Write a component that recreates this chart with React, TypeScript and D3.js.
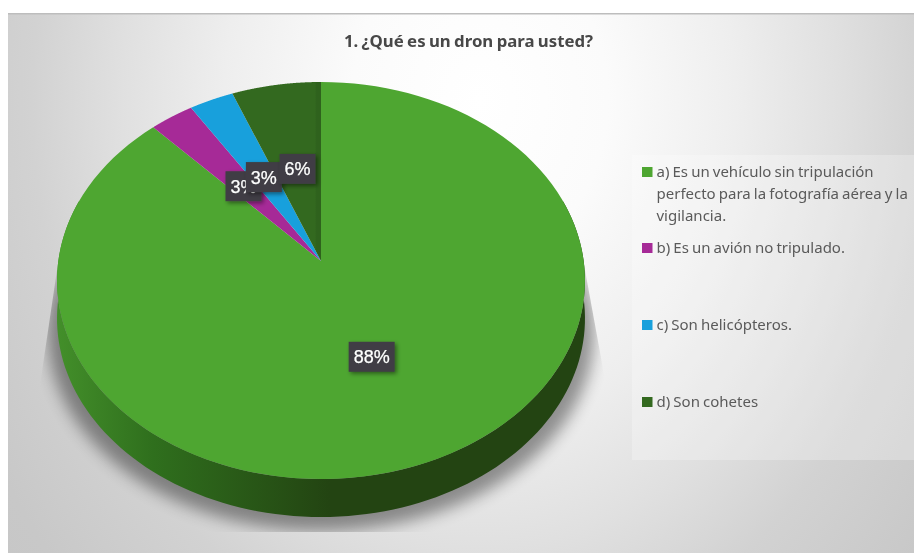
import React from "react";
import * as d3 from "d3";

// Survey results: what respondents think a drone is.
const categories = [
  "a) Es un vehículo sin tripulación perfecto para la fotografía aérea y la vigilancia.",
  "b) Es un avión no tripulado.",
  "c) Son helicópteros.",
  "d) Son cohetes",
];
const percentages = [88, 3, 3, 6];
const sliceColors = ["#4ea631", "#a62a97", "#18a0dc", "#33691f"];
const legendLines = [
  ["a) Es un vehículo sin tripulación", "perfecto para la fotografía aérea y la", "vigilancia."],
  ["b) Es un avión no tripulado."],
  ["c) Son helicópteros."],
  ["d) Son cohetes"],
];
const legendRows = [172, 248, 325, 402];
const title = "1. ¿Qué es un dron para usted?";

const WIDTH = 914;
const HEIGHT = 553;

// Tilted disc: projective mapping of a unit circle onto the page.
const CX = 321;
const CY = 261;
const AX = 262.7;
const AY = 196.6;
const TILT = 0.0983;
const DEPTH = 38;
const SHADOW_SPREAD = 1.035;

const project = (angle: number, r = 1): [number, number] => {
  const u = Math.sin(angle) * r;
  const v = Math.cos(angle) * r;
  const w = 1 + TILT * v;
  return [CX + (AX * u) / w, CY - (AY * v) / w];
};

const line = d3.line<[number, number]>();

const sampleArc = (a0: number, a1: number, dy = 0): [number, number][] =>
  d3.range(0, 121).map((i) => {
    const [x, y] = project(a0 + ((a1 - a0) * i) / 120);
    return [x, y + dy];
  });

const slicePath = (a0: number, a1: number) =>
  line([[CX, CY], ...sampleArc(a0, a1)]) + "Z";

// Slices run clockwise from twelve o'clock.
const pie = d3.pie<number>().sort(null).value((d) => d);
const arcs = pie(percentages);

const rim = sampleArc(Math.PI / 2 - 0.32, Math.PI * 1.5 + 0.32);
const wallPath =
  line([...rim, ...rim.slice().reverse().map(([x, y]) => [x, y + DEPTH] as [number, number])]) + "Z";
const shadowPath =
  line(
    sampleArc(0, Math.PI * 2, DEPTH + 14).map(
      ([x, y]) => [CX + (x - CX) * SHADOW_SPREAD, y] as [number, number]
    )
  ) + "Z";

export default function App() {
  return (
    <svg
      width={WIDTH}
      height={HEIGHT}
      viewBox={`0 0 ${WIDTH} ${HEIGHT}`}
      style={{ position: "fixed", left: 0, top: 0, display: "block" }}
    >
      <defs>
        <radialGradient
          id="bg"
          gradientUnits="userSpaceOnUse"
          cx={480}
          cy={100}
          r={640}
          gradientTransform="translate(480 100) scale(1 1.25) translate(-480 -100)"
        >
          <stop offset="0" stopColor="#ffffff" />
          <stop offset="0.2" stopColor="#fbfbfb" />
          <stop offset="0.4" stopColor="#eeeeee" />
          <stop offset="0.56" stopColor="#e0e0e0" />
          <stop offset="0.7" stopColor="#d2d2d2" />
          <stop offset="0.88" stopColor="#c8c8c8" />
          <stop offset="1" stopColor="#c6c6c6" />
        </radialGradient>
        <linearGradient id="wall" gradientUnits="userSpaceOnUse" x1={57} x2={330} y1={0} y2={0}>
          <stop offset="0" stopColor="#438f2a" />
          <stop offset="0.35" stopColor="#2f6f1d" />
          <stop offset="1" stopColor="#234412" />
        </linearGradient>
        <linearGradient id="sliceD" gradientUnits="userSpaceOnUse" x1={233} x2={321} y1={0} y2={0}>
          <stop offset="0.93" stopColor={sliceColors[3]} />
          <stop offset="0.95" stopColor="#2f621d" />
          <stop offset="1" stopColor="#2f621d" />
        </linearGradient>
        <filter id="soft" x="-20%" y="-20%" width="140%" height="140%">
          <feGaussianBlur stdDeviation="8" />
        </filter>
        <filter id="labelShadow" x="-30%" y="-30%" width="170%" height="170%">
          <feDropShadow dx="2" dy="2" stdDeviation="2" floodColor="#000" floodOpacity="0.45" />
        </filter>
        <clipPath id="shadowClip">
          <path d="M57 270L40 385L40 532L606 532L606 385L585 270Z" />
        </clipPath>
      </defs>

      <rect x={8} y={13} width={WIDTH - 8} height={HEIGHT - 13} fill="url(#bg)" />
      <rect x={8} y={13} width={WIDTH - 8} height={1.5} fill="#bdbdbd" />

      <rect x={632} y={155} width={282} height={305} fill="#ffffff" opacity={0.25} />

      <g clipPath="url(#shadowClip)">
        <path d={shadowPath} fill="#000" opacity={0.4} filter="url(#soft)" />
      </g>

      <path d={wallPath} fill="url(#wall)" />
      {arcs.map((a, i) => (
        <path
          key={categories[i]}
          d={slicePath(a.startAngle, a.endAngle)}
          fill={i === 3 ? "url(#sliceD)" : sliceColors[i]}
        />
      ))}

      {arcs.map((a, i) => {
        const [x, y] = project((a.startAngle + a.endAngle) / 2, 0.5);
        const w = percentages[i] >= 10 ? 46 : 36;
        return (
          <g key={i} filter="url(#labelShadow)">
            <rect x={x - w / 2} y={y - 15} width={w} height={30} fill="#3f3e44" />
            <text
              x={x}
              y={y + 6.5}
              textAnchor="middle"
              fontFamily="'Liberation Sans', Arial, sans-serif"
              fontSize={18}
              fill="#ffffff"
              stroke="#ffffff"
              strokeWidth={0.25}
            >
              {percentages[i]}%
            </text>
          </g>
        );
      })}

      <text
        x={468.5}
        y={46.5}
        textAnchor="middle"
        fontFamily="'Noto Sans', sans-serif"
        fontWeight={700}
        fontSize={16.8}
        wordSpacing={-1}
        fill="#484848"
      >
        {title}
      </text>

      {legendLines.map((lines, i) => (
        <g key={i} fontFamily="'Noto Sans', sans-serif" fontSize={15} wordSpacing={-0.8} fill="#5a5a5a">
          <rect x={642} y={legendRows[i] - 5} width={10.5} height={10} fill={sliceColors[i]} />
          {lines.map((t, j) => (
            <text key={j} x={656.5} y={legendRows[i] + 5 + j * 22}>
              {t}
            </text>
          ))}
        </g>
      ))}
    </svg>
  );
}
